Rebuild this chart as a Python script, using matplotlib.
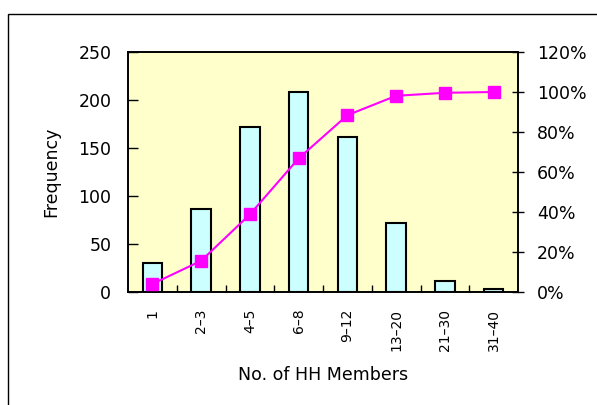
import matplotlib
matplotlib.use("Agg")
import matplotlib.pyplot as plt
import numpy as np
from matplotlib.patches import Rectangle
from matplotlib.ticker import FuncFormatter

# household size groups and counts
groups = ['1', '2–3', '4–5', '6–8', '9–12', '13–20', '21–30', '31–40']
freq = [30, 86, 172, 208, 161, 72, 11, 3]
cum_pct = [4.0, 15.6, 38.8, 66.8, 88.4, 98.1, 99.6, 100.0]

plt.rcParams['font.family'] = 'DejaVu Sans'

fig = plt.figure(figsize=(5.97, 4.05), dpi=100)
ax = fig.add_axes([128 / 597, 113 / 405, 390 / 597, 240 / 405])
ax.set_facecolor('#FFFFCC')

x = np.arange(len(groups))
ax.bar(x, freq, 0.4, color='#CCFFFF', edgecolor='black', linewidth=1.5, zorder=2)
ax.set_xlim(-0.5, len(groups) - 0.5)
ax.set_ylim(0, 250)
ax.set_yticks(range(0, 251, 50))
ax.set_xticks(x)
ax.set_xticklabels(groups, rotation=90, fontsize=10)
ax.set_xticks(np.arange(0.5, len(groups) - 1, 1), minor=True)
ax.tick_params(axis='x', which='major', length=0, pad=12)
ax.tick_params(axis='x', which='minor', direction='in', length=5, width=1)
ax.tick_params(axis='y', direction='in', length=7, width=1, labelsize=12.5, pad=12)

ax2 = ax.twinx()
ax2.plot(x, np.array(cum_pct) / 100, color='#FF00FF', lw=1.5, marker='s',
         markersize=8, zorder=3)
ax2.set_ylim(0, 1.2)
ax2.set_yticks(np.arange(0, 1.21, 0.2))
ax2.yaxis.set_major_formatter(FuncFormatter(lambda v, p: f'{v * 100:.0f}%'))
ax2.tick_params(axis='y', direction='inout', length=8, width=1, labelsize=12.5, pad=9.5)

for a in (ax, ax2):
    for s in a.spines.values():
        s.set_linewidth(1.2)
        s.set_color('black')

ax.set_ylabel('Frequency', fontsize=12.5)
ax.yaxis.set_label_coords(-0.174, 0.5)
ax.set_xlabel('No. of HH Members', fontsize=12.5)
ax.xaxis.set_label_coords(0.5, -0.31)

# outer chart frame, only its left and top edges fall inside the figure
frame = Rectangle((8 / 597, -0.2), 1.2, 1 - 14 / 405 + 0.2,
                  transform=fig.transFigure, fill=False, edgecolor='black',
                  linewidth=1, clip_on=False)
fig.add_artist(frame)

fig.savefig('out.png', dpi=100)
